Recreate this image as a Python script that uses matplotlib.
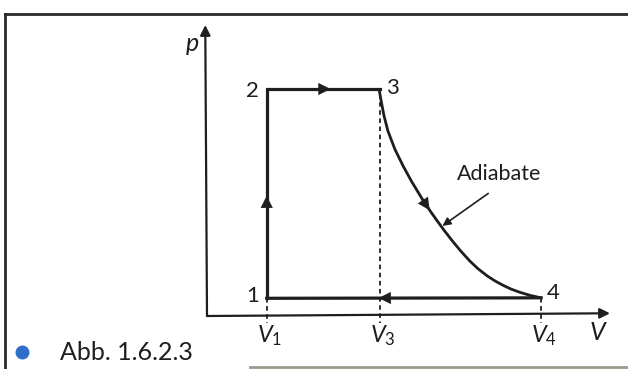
import matplotlib.pyplot as plt
from matplotlib.lines import Line2D

plt.rcParams['font.family'] = ['Lato', 'DejaVu Sans']
plt.rcParams['mathtext.fontset'] = 'custom'
plt.rcParams['mathtext.rm'] = 'Lato'
plt.rcParams['mathtext.it'] = 'Lato:italic'

# state points of the cycle (V, p)
V1, V3, V4 = 1.03, 2.98, 5.76
p_low, p_high = 0.78, 10.0

# adiabatic expansion 3 -> 4
adiabat_V = [2.97, 3.00, 3.05, 3.12, 3.24, 3.38, 3.53, 3.72, 3.84, 3.97, 4.10,
             4.24, 4.38, 4.53, 4.67, 4.83, 4.97, 5.10, 5.24, 5.40, 5.57, 5.76]
adiabat_p = [9.96, 9.52, 8.85, 8.15, 7.35, 6.62, 5.92, 5.12, 4.66, 4.19, 3.74,
             3.28, 2.85, 2.43, 2.09, 1.77, 1.54, 1.36, 1.19, 1.04, 0.91, 0.80]

V_max, p_max = 6.95, 12.82

fig = plt.figure(figsize=(6.28, 3.69), dpi=100)
ax = fig.add_axes([207 / 628, 53 / 369, 403 / 628, 291 / 369])
ax.set_xlim(0, V_max)
ax.set_ylim(0, p_max)
ax.axis('off')

ink = '#1e1e1e'

# coordinate axes with arrow heads
axis_arrow = dict(arrowstyle='-|>', color=ink, lw=1.6, mutation_scale=15, shrinkA=0, shrinkB=0)
ax.annotate('', xy=(V_max, 0.12), xytext=(0, 0), arrowprops=axis_arrow, annotation_clip=False)
ax.annotate('', xy=(-0.03, p_max), xytext=(0, 0), arrowprops=axis_arrow, annotation_clip=False)

# cycle 1 -> 2 -> 3, adiabate 3 -> 4, back 4 -> 1
ax.plot([V1, V1, V3], [p_low, p_high, p_high], color=ink, lw=2.3, solid_joinstyle='miter')
ax.plot(adiabat_V, adiabat_p, color=ink, lw=2.0, solid_joinstyle='round')
ax.plot([V4, V1], [adiabat_p[-1], p_low], color=ink, lw=2.3)

# direction arrows
head = dict(arrowstyle='-|>', color=ink, lw=0, mutation_scale=22, shrinkA=0, shrinkB=0)
ax.annotate('', xy=(V1, 5.3), xytext=(V1, 4.8), arrowprops=head)
ax.annotate('', xy=(2.13, p_high), xytext=(1.9, p_high), arrowprops=head)
ax.annotate('', xy=(adiabat_V[8], adiabat_p[8]), xytext=(adiabat_V[7], adiabat_p[7]), arrowprops=head)
ax.annotate('', xy=(V3 - 0.02, 0.79), xytext=(V3 + 0.3, 0.795), arrowprops=head)

# dashed guides down to the volume axis
guide = dict(color=ink, lw=1.3, ls=(0, (2.5, 2)), clip_on=False)
ax.plot([V1, V1], [p_low, -0.3], **guide)
ax.plot([V3, V3], [p_high - 0.2, -0.3], **guide)
ax.plot([V4, V4], [adiabat_p[-1], -0.3], **guide)

# labels
fs = 16
ax.text(V1 - 0.13, p_high - 0.1, '2', fontsize=fs, ha='right', va='center', color=ink)
ax.text(V3 + 0.1, p_high + 0.05, '3', fontsize=fs, ha='left', va='center', color=ink)
ax.text(V1 - 0.13, p_low + 0.1, '1', fontsize=fs, ha='right', va='center', color=ink)
ax.text(V4 + 0.1, 1.0, '4', fontsize=fs, ha='left', va='center', color=ink)
ax.text(-0.25, 11.9, '$p$', fontsize=18, ha='center', va='center', color=ink)
ax.text(6.75, -0.72, '$V$', fontsize=18, ha='center', va='center', color=ink)
for v, name in [(V1, '$V_1$'), (V3, '$V_3$'), (V4, '$V_4$')]:
    ax.text(v + 0.05, -0.85, name, fontsize=17, ha='center', va='center', color=ink)

ax.text(5.03, 6.25, 'Adiabate', fontsize=15.5, ha='center', va='center', color=ink)
ax.annotate('', xy=(4.06, 3.97), xytext=(4.85, 5.4),
            arrowprops=dict(arrowstyle='-|>', color=ink, lw=1.2, mutation_scale=12,
                            shrinkA=0, shrinkB=0))

# page frame and caption
frame = dict(color='#2a2a2a', lw=2.0, transform=fig.transFigure)
fig.add_artist(Line2D([5 / 628, 1.0], [1 - 14 / 369, 1 - 14 / 369], **frame))
fig.add_artist(Line2D([5 / 628, 5 / 628], [0, 1 - 14 / 369], **frame))
fig.add_artist(Line2D([250 / 628, 1.0], [2 / 369, 2 / 369], color='#9a9a8a', lw=2.0,
                      transform=fig.transFigure))
fig.add_artist(Line2D([22 / 628], [1 - 352 / 369], marker='o', markersize=9,
                      color='#2f6ec9', transform=fig.transFigure))
fig.text(60 / 628, 1 - 352 / 369, 'Abb. 1.6.2.3', fontsize=18, ha='left', va='center', color=ink)

fig.savefig('out.png', dpi=100)
